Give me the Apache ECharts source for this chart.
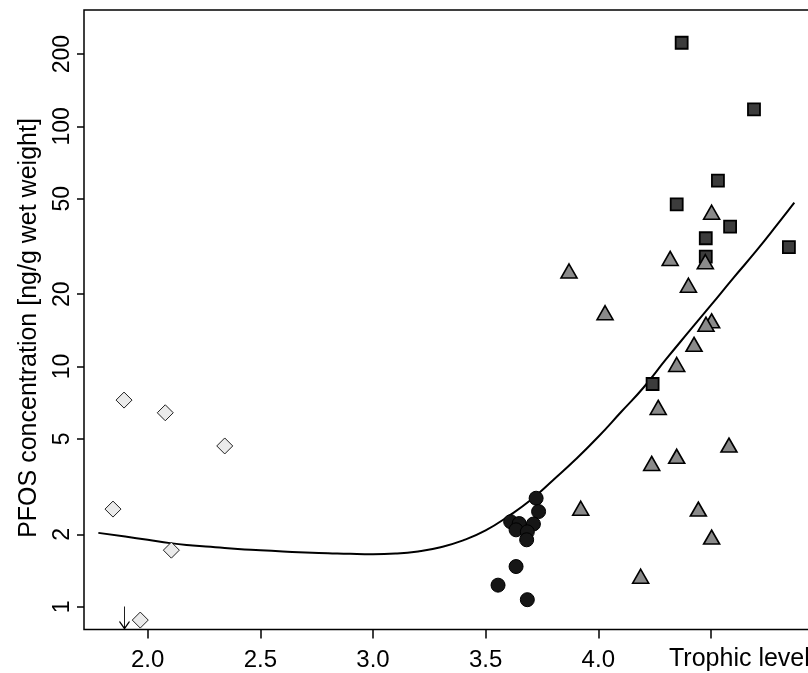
<!DOCTYPE html>
<html>
<head>
<meta charset="utf-8">
<script src="https://cdn.jsdelivr.net/npm/echarts@6/dist/echarts.min.js"></script>
<style>
html,body{margin:0;padding:0;background:#fff;}
#chart{width:808px;height:673px;}
</style>
</head>
<body>
<div id="chart"></div>
<script>
// Trophic level (x) and PFOS concentration in ng/g wet weight (y)
const diamondX = [1.895, 2.078, 2.342, 1.846, 2.105, 1.967];
const diamondY = [7.25, 6.42, 4.67, 2.55, 1.72, 0.880];

const belowLimitX = [1.897];
const belowLimitY = [0.902];

const circleX = [3.724, 3.735, 3.611, 3.649, 3.635, 3.712, 3.685, 3.682, 3.635, 3.555, 3.685];
const circleY = [2.83, 2.49, 2.26, 2.22, 2.09, 2.21, 2.05, 1.90, 1.47, 1.23, 1.07];

const squareX = [4.370, 4.691, 4.531, 4.348, 4.585, 4.477, 4.477, 4.846, 4.241];
const squareY = [222.8, 117.7, 59.4, 47.3, 38.2, 34.2, 28.7, 31.4, 8.46];

const triangleX = [3.870, 4.030, 3.922, 4.188, 4.237, 4.266, 4.348, 4.348, 4.425, 4.444, 4.503, 4.503, 4.478, 4.319, 4.475, 4.400, 4.503, 4.580];
const triangleY = [24.98, 16.75, 2.57, 1.34, 3.95, 6.76, 4.23, 10.2, 12.37, 2.55, 1.95, 15.5, 15.0, 28.2, 27.3, 21.8, 43.9, 4.71];

const curveX = [1.781, 1.9, 2.0, 2.1, 2.2, 2.3, 2.4, 2.5, 2.6, 2.7, 2.8, 2.9, 3.0, 3.1, 3.2, 3.3, 3.4, 3.5, 3.6, 3.7, 3.8, 3.9, 4.0, 4.1, 4.2, 4.3, 4.4, 4.5, 4.6, 4.7, 4.8, 4.870];
const curveY = [2.03, 1.96, 1.90, 1.84, 1.80, 1.77, 1.74, 1.72, 1.70, 1.68, 1.67, 1.66, 1.655, 1.665, 1.70, 1.77, 1.89, 2.08, 2.38, 2.78, 3.37, 4.11, 5.10, 6.45, 8.16, 10.7, 13.9, 18.0, 23.4, 30.2, 39.6, 48.1];

const xTicks = [2.0, 2.5, 3.0, 3.5, 4.0, 4.5];
const xTickLabels = [2.0, 2.5, 3.0, 3.5, 4.0];
const yTicks = [1, 2, 5, 10, 20, 50, 100, 200];

const xTitle = 'Trophic level';
const yTitle = 'PFOS concentration [ng/g wet weight]';

const zip = (a, b) => a.map((v, i) => [v, b[i]]);
const FONT = '"Liberation Sans", Arial, Helvetica, sans-serif';

const chart = echarts.init(document.getElementById('chart'), null, {renderer: 'canvas'});
chart.setOption({
  animation: false,
  backgroundColor: '#fff',
  grid: {
    left: 84, top: 10, width: 746, height: 619.5,
    outerBoundsMode: 'none', containLabel: false,
    show: true, borderColor: '#000', borderWidth: 1.5, backgroundColor: 'transparent'
  },
  xAxis: {
    type: 'value', min: 1.7173, max: 5.0284,
    axisLine: {show: false},
    splitLine: {show: false},
    axisTick: {show: true, inside: false, length: 9, lineStyle: {color: '#000', width: 1.5}, customValues: xTicks},
    axisLabel: {
      customValues: xTickLabels, margin: 19, color: '#000',
      fontFamily: FONT, fontSize: 24,
      formatter: v => Number(v).toFixed(1)
    }
  },
  yAxis: {
    type: 'log', min: 0.804, max: 305, logBase: 10,
    axisLine: {show: false},
    splitLine: {show: false},
    axisTick: {show: true, inside: false, length: 7, lineStyle: {color: '#000', width: 1.5}, customValues: yTicks},
    axisLabel: {
      customValues: yTicks, rotate: 90, margin: 10, color: '#000',
      fontFamily: FONT, fontSize: 23,
      formatter: v => String(Math.round(v))
    }
  },
  graphic: [
    {type: 'text', x: 669, y: 659, style: {text: xTitle, font: '25px ' + FONT, fill: '#000', textAlign: 'left', textVerticalAlign: 'middle'}},
    {type: 'text', x: 29.5, y: 328, rotation: Math.PI / 2, style: {text: yTitle, font: '25px ' + FONT, fill: '#000', textAlign: 'center', textVerticalAlign: 'middle'}}
  ],
  series: [
    {
      type: 'line', data: zip(curveX, curveY), smooth: true, showSymbol: false, symbol: 'none',
      lineStyle: {color: '#000', width: 2}, z: 2
    },
    {
      type: 'scatter', data: zip(diamondX, diamondY), symbol: 'diamond', symbolSize: [16, 16],
      itemStyle: {color: '#ebebeb', borderColor: '#222', borderWidth: 1, opacity: 1}, z: 3
    },
    {
      type: 'scatter', data: zip(belowLimitX, belowLimitY),
      symbol: 'path://M5 0 L5 22 M0.5 15 L5 22 L9.5 15', symbolSize: [10, 22], symbolKeepAspect: false,
      itemStyle: {color: 'transparent', borderColor: '#000', borderWidth: 1.3, opacity: 1}, z: 3
    },
    {
      type: 'scatter', data: zip(circleX, circleY), symbol: 'circle', symbolSize: 14,
      itemStyle: {color: '#161616', borderColor: '#000', borderWidth: 1, opacity: 1}, z: 4
    },
    {
      type: 'scatter', data: zip(squareX, squareY), symbol: 'rect', symbolSize: 12,
      itemStyle: {color: '#3c3c3c', borderColor: '#000', borderWidth: 1.8, opacity: 1}, z: 5
    },
    {
      type: 'scatter', data: zip(triangleX, triangleY), symbol: 'triangle', symbolSize: [16, 14],
      itemStyle: {color: '#8a8a8a', borderColor: '#000', borderWidth: 1.6, opacity: 1}, z: 6
    }
  ]
});
</script>
</body>
</html>
